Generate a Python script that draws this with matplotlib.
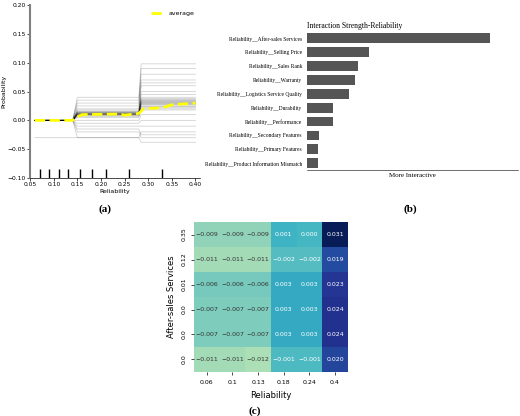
import matplotlib
matplotlib.use("Agg")
import matplotlib.pyplot as plt
import numpy as np

# panel (a): ICE curves, values at breakpoints
ice_x = [0.06, 0.14, 0.15, 0.155, 0.28, 0.285, 0.40]
ice_levels = [  # (before, middle, late) level of each curve
    (0.0, 0.010, 0.030), (0.0, 0.012, 0.025), (0.0, 0.008, 0.035), (0.0, 0.015, 0.040),
    (0.0, 0.005, 0.020), (0.0, 0.020, 0.060), (0.0, 0.030, 0.090), (0.0, 0.040, 0.098),
    (0.0, 0.025, 0.070), (0.0, -0.010, -0.010), (0.0, -0.020, -0.030), (0.0, -0.030, -0.038),
    (0.0, 0.000, 0.010), (0.0, 0.010, 0.050), (0.0, 0.018, 0.045), (0.0, 0.011, 0.028),
    (0.0, 0.009, 0.022), (0.0, 0.013, 0.033), (0.0, -0.005, 0.000), (0.0, 0.035, 0.080),
    (-0.03, -0.030, -0.020), (0.0, 0.014, 0.031), (0.0, 0.007, 0.018), (0.0, 0.016, 0.036),
    (0.0, 0.012, 0.065), (0.0, -0.015, -0.025), (0.0, 0.010, 0.027), (0.0, 0.012, 0.032),
    (0.0, 0.013, 0.029), (0.0, 0.011, 0.034), (0.0, 0.014, 0.038), (0.0, 0.010, 0.024),
]
avg_x = [0.06, 0.14, 0.15, 0.16, 0.24, 0.25, 0.28, 0.29, 0.33, 0.35, 0.40]
avg_y = [0.0, 0.0, 0.006, 0.010, 0.011, 0.009, 0.012, 0.020, 0.022, 0.027, 0.030]
rug_x = [0.07, 0.09, 0.11, 0.13, 0.155, 0.18, 0.21, 0.26, 0.33]

# panel (b)
pairs = ["Reliability__After-sales Services", "Reliability__Selling Price",
         "Reliability__Sales Rank", "Reliability__Warranty",
         "Reliability__Logistics Service Quality", "Reliability__Durability",
         "Reliability__Performance", "Reliability__Secondary Features",
         "Reliability__Primary Features", "Reliability__Product Information Mismatch"]
strength = [1.0, 0.34, 0.28, 0.26, 0.23, 0.14, 0.14, 0.065, 0.06, 0.06]

# panel (c)
rel_ticks = ["0.06", "0.1", "0.13", "0.18", "0.24", "0.4"]
aftersales_ticks = ["0.35", "0.12", "0.01", "0.0", "0.0", "0.0"]
heat = np.array([
    [-0.009, -0.009, -0.009, 0.001, 0.000, 0.031],
    [-0.011, -0.011, -0.011, -0.002, -0.002, 0.019],
    [-0.006, -0.006, -0.006, 0.003, 0.003, 0.023],
    [-0.007, -0.007, -0.007, 0.003, 0.003, 0.024],
    [-0.007, -0.007, -0.007, 0.003, 0.003, 0.024],
    [-0.011, -0.011, -0.012, -0.001, -0.001, 0.020],
])

fig = plt.figure(figsize=(5.2, 4.16), dpi=100)

# ---- (a)
ax = fig.add_axes([0.058, 0.572, 0.327, 0.416])
for b, m, h in ice_levels:
    ax.plot(ice_x, [b, b, m, m, m, h, h], color="black", alpha=0.18, lw=0.6)
ax.plot(avg_x, avg_y, color="yellow", lw=2, ls="--", label="average")
ax.vlines(rug_x, -0.1, -0.085, color="black", lw=1)
ax.set_xlim(0.05, 0.41)
ax.set_ylim(-0.1, 0.2)
ax.set_xticks(np.arange(0.05, 0.41, 0.05))
ax.set_xlabel("Reliability", fontsize=4.5, labelpad=1)
ax.set_ylabel("Probability", fontsize=4.5, labelpad=0)
ax.yaxis.set_label_coords(-0.14, 0.5)
ax.tick_params(labelsize=4.3, length=2, width=0.5, pad=1)
for s in ["top", "right"]:
    ax.spines[s].set_visible(False)
ax.spines["left"].set_linewidth(1.5)
ax.spines["left"].set_color("grey")
ax.spines["bottom"].set_linewidth(0.5)
ax.legend(fontsize=4.5, frameon=False, loc="upper right")

# ---- (b)
bx = fig.add_axes([0.59, 0.591, 0.406, 0.337])
y = np.arange(len(pairs))[::-1]
bx.barh(y, strength, color="#555555", height=0.7)
bx.set_yticks(y)
bx.set_yticklabels(pairs, fontsize=4, family="Liberation Serif")
bx.set_xticks([])
bx.tick_params(length=0)
bx.set_xlim(0, 1.15)
bx.set_ylim(-0.5, 9.6)
for s in ["top", "right", "left"]:
    bx.spines[s].set_visible(False)
bx.spines["bottom"].set_linewidth(0.4)
bx.set_xlabel("More Interactive", fontsize=5, family="Liberation Serif", labelpad=2)
bx.set_title("Interaction Strength-Reliability", fontsize=5.5, family="Liberation Serif",
             loc="left", pad=1)

# ---- (c)
cx = fig.add_axes([0.373, 0.106, 0.296, 0.36])
cx.imshow(heat, cmap="YlGnBu", vmin=-0.03, vmax=0.031, aspect="auto")
for i in range(heat.shape[0]):
    for j in range(heat.shape[1]):
        v = heat[i, j]
        cx.text(j, i, f"{v:.3f}".replace("-", "\u2212"), ha="center", va="center",
                fontsize=4.5, color="white" if v > -0.005 else "#333333")
cx.set_xticks(range(len(rel_ticks)))
cx.set_xticklabels(rel_ticks)
cx.set_yticks(range(len(aftersales_ticks)))
cx.set_yticklabels(aftersales_ticks, rotation=90, va="center")
cx.tick_params(labelsize=4.5, length=2, width=0.5)
for s in cx.spines.values():
    s.set_visible(False)
cx.set_xlabel("Reliability", fontsize=6, labelpad=5)
cx.set_ylabel("After-sales Services", fontsize=6)

for x, yy, lab in [(0.202, 0.49, "(a)"), (0.79, 0.49, "(b)"), (0.49, 0.005, "(c)")]:
    fig.text(x, yy, lab, fontsize=8, weight="bold", family="Liberation Serif", ha="center")

fig.savefig("out.png", dpi=100)
